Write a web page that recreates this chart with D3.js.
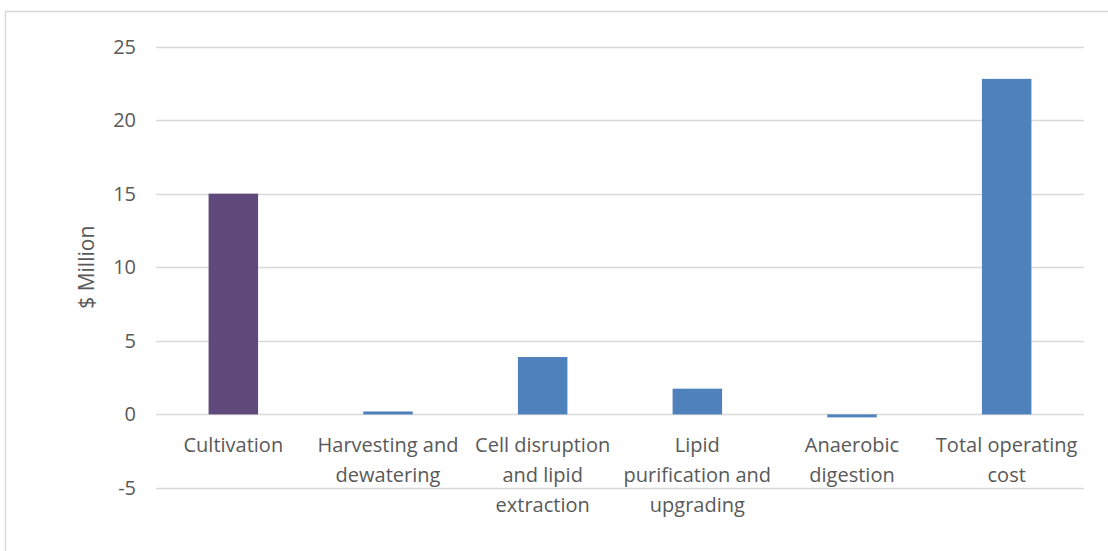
<!DOCTYPE html>
<html>
<head>
<meta charset="utf-8">
<script src="https://cdn.jsdelivr.net/npm/d3@7"></script>
<style>
  body { margin: 0; background: #fff; }
  svg { display: block; font-family: "Open Sans", sans-serif; }
</style>
</head>
<body>
<div id="chart"></div>
<script>
var categories = ["Cultivation", "Harvesting and dewatering", "Cell disruption and lipid extraction",
    "Lipid purification and upgrading", "Anaerobic digestion", "Total operating cost"];
var labelLines = [["Cultivation"], ["Harvesting and", "dewatering"], ["Cell disruption", "and lipid", "extraction"],
    ["Lipid", "purification and", "upgrading"], ["Anaerobic", "digestion"], ["Total operating", "cost"]];
var values = [15.0, 0.2, 3.9, 1.75, -0.2, 22.8];
var barColors = ["#604A7B", "#4F81BD", "#4F81BD", "#4F81BD", "#4F81BD", "#4F81BD"];
var yTicks = [-5, 0, 5, 10, 15, 20, 25];

var width = 1108,
    height = 551,
    margin = {top: 46.5, right: 24, bottom: 63, left: 156};

var svg = d3.select("#chart").append("svg")
    .attr("width", width)
    .attr("height", height);

// outer chart border (cropped on right / bottom)
svg.append("rect")
    .attr("x", 5.5).attr("y", 11.5)
    .attr("width", width + 20).attr("height", height + 20)
    .attr("fill", "none")
    .attr("stroke", "#D9D9D9")
    .attr("stroke-width", 1.5);

var x = d3.scaleBand()
    .domain(categories)
    .range([margin.left, width - margin.right])
    .paddingInner(0.68)
    .paddingOuter(0.34);

var y = d3.scaleLinear()
    .domain([-5, 25])
    .range([height - margin.bottom, margin.top]);

// gridlines
svg.append("g")
    .selectAll("line")
    .data(yTicks)
    .join("line")
    .attr("x1", margin.left)
    .attr("x2", width - margin.right)
    .attr("y1", d => Math.round(y(d)) + 0.5)
    .attr("y2", d => Math.round(y(d)) + 0.5)
    .attr("stroke", "#D9D9D9")
    .attr("stroke-width", 1.5);

// y tick labels
svg.append("g")
    .selectAll("text")
    .data(yTicks)
    .join("text")
    .attr("x", 136)
    .attr("y", d => y(d))
    .attr("dy", "0.35em")
    .attr("text-anchor", "end")
    .style("font-size", "20px")
    .style("fill", "#595959")
    .text(d => d);

// bars
svg.append("g")
    .selectAll("rect")
    .data(values)
    .join("rect")
    .attr("x", (d, i) => x(categories[i]))
    .attr("width", x.bandwidth())
    .attr("y", d => y(Math.max(0, d)))
    .attr("height", d => Math.abs(y(d) - y(0)))
    .attr("fill", (d, i) => barColors[i]);

// category labels
var catLabel = svg.append("g")
    .selectAll("text")
    .data(categories)
    .join("text")
    .attr("text-anchor", "middle")
    .attr("x", d => x(d) + x.bandwidth() / 2)
    .attr("y", 452)
    .style("font-size", "20px")
    .style("fill", "#595959");

catLabel.selectAll("tspan")
    .data((d, i) => labelLines[i])
    .join("tspan")
    .attr("x", function() { return d3.select(this.parentNode).attr("x"); })
    .attr("dy", (d, i) => i === 0 ? 0 : 30)
    .text(d => d);

// y axis title
svg.append("text")
    .attr("transform", "translate(94," + (y(10)) + ") rotate(-90)")
    .attr("text-anchor", "middle")
    .style("font-size", "21px")
    .style("fill", "#595959")
    .text("$ Million");
</script>
</body>
</html>
